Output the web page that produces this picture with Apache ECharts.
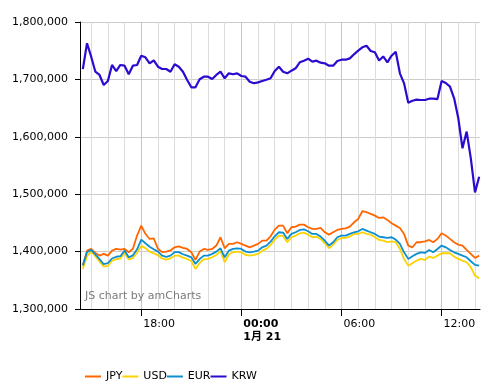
<!DOCTYPE html>
<html><head><meta charset="utf-8">
<script src="https://cdn.jsdelivr.net/npm/echarts@6/dist/echarts.min.js"></script>
<style>html,body{margin:0;padding:0;background:#fff}#c{width:490px;height:385px}</style>
</head><body><div id="c"></div>
<script>
const seriesNames = ['JPY', 'USD', 'EUR', 'KRW'];
const seriesColors = ['#FF6600', '#FCD202', '#0D8ECF', '#2A0CD0'];
// samples every 15 minutes, from 14:30 on 20 Jan (hours counted from 20 Jan 00:00)
const startHour = 14.5;
const stepHours = 0.25;

const jpy = [
  1376000, 1401700, 1404600, 1397700, 1393000, 1396000, 1393000, 1401700, 1404600, 1403500,
  1404600, 1398800, 1405000, 1427900, 1445300, 1431000, 1422000, 1423000, 1405000, 1399000,
  1400000, 1402000, 1407500, 1409000,
  1406400, 1404600, 1398800, 1385500, 1400000, 1404600, 1402900, 1404600, 1410500, 1425000,
  1405800, 1413400, 1413400, 1416300, 1413400, 1410500, 1407500, 1410500, 1413400, 1419200,
  1419200, 1426700, 1438300, 1445300,
  1445300, 1431900, 1442400, 1443600, 1447000, 1447000, 1442400, 1439500, 1439500, 1441200,
  1433700, 1429600, 1433700, 1437700, 1439500, 1440600, 1443600, 1451100, 1456900, 1470300,
  1468600, 1465600, 1462700, 1458600,
  1459800, 1455200, 1449400, 1445300, 1441200, 1430800, 1410500, 1407500, 1416300, 1416300,
  1418000, 1420300, 1416300, 1422100, 1431900, 1427900, 1422100, 1416300, 1412200, 1410500,
  1402900, 1395900, 1388900, 1393000
];
const usd = [
  1370000, 1392000, 1400000, 1392000, 1383000, 1374000, 1375000, 1384000, 1387000, 1388000,
  1398000, 1386000, 1389000, 1398000, 1410000, 1406000, 1400000, 1397000, 1394000, 1388000,
  1386000, 1388000, 1393000, 1393000,
  1389500, 1387200, 1383200, 1369800, 1380300, 1386600, 1387200, 1390100, 1394200, 1401200,
  1381400, 1395400, 1398800, 1400000, 1398800, 1394200, 1393000, 1394200, 1395900, 1401700,
  1404600, 1411600, 1420900, 1427900,
  1427300, 1416300, 1425000, 1427900, 1431900, 1433100, 1429600, 1425000, 1426100, 1422100,
  1414500, 1405800, 1412200, 1420300, 1423800, 1423800, 1426100, 1430800, 1430800, 1433700,
  1430800, 1429600, 1425000, 1420300,
  1419200, 1416300, 1418000, 1416300, 1404600, 1387200, 1375600, 1379700, 1384300, 1387200,
  1385500, 1391300, 1389000, 1393000, 1397100, 1397100, 1397100, 1391300, 1387200, 1384300,
  1381400, 1372700, 1358200, 1353500
];
const eur = [
  1376000, 1399000, 1403000, 1395000, 1387000, 1378000, 1380000, 1388000, 1391000, 1392000,
  1402000, 1390000, 1393500, 1404000, 1421000, 1414500, 1408500, 1404000, 1400000, 1393000,
  1391000, 1393000, 1399000, 1399000,
  1395400, 1393000, 1390000, 1378500, 1387000, 1393000, 1393000, 1396000, 1400000, 1405800,
  1390000, 1401700, 1404600, 1405800, 1404600, 1400000, 1398800, 1400000, 1401700, 1407500,
  1410500, 1417400, 1426700, 1433700,
  1433100, 1422100, 1430800, 1433700, 1437700, 1438900, 1435400, 1430800, 1430800, 1426100,
  1419200, 1410500, 1416300, 1425000, 1427900, 1427900, 1430800, 1433700, 1435400, 1439500,
  1436600, 1433700, 1430800, 1426100,
  1425000, 1423800, 1425000, 1420900, 1413400, 1398800, 1387300, 1391900, 1396000, 1398800,
  1397700, 1402900, 1398800, 1404600, 1410500, 1407500, 1402900, 1398800, 1396000, 1393000,
  1390100, 1383200, 1376800, 1375600
];
const krw = [
  1718000, 1762900, 1739600, 1713400, 1707700, 1690200, 1697200, 1725100, 1714600, 1725100,
  1723900, 1708900, 1723900, 1725100, 1741300, 1738500, 1728000, 1733300, 1722100, 1718100,
  1718100, 1713400, 1726300, 1722100, 1713400, 1699000, 1686200, 1686200, 1700200, 1704700,
  1704700, 1700700, 1707700, 1713400, 1701900, 1710600, 1708900, 1710600, 1705900, 1704700,
  1696000, 1693200, 1694900, 1697200, 1699500, 1701900, 1714600, 1722100, 1713400, 1710600,
  1715200, 1719300, 1729800, 1732600, 1736100, 1730900, 1732600, 1729100, 1728000, 1723900,
  1723900, 1732100, 1734300, 1734300, 1736700, 1743700, 1750000, 1755900, 1758700, 1749500,
  1747200, 1733000, 1740000, 1729800, 1741300, 1748300, 1710600, 1693200, 1659400, 1662900,
  1664700, 1664100, 1664100, 1666400, 1666400, 1665800, 1697200, 1693700, 1687300, 1667100,
  1632300, 1579900, 1609100, 1562500, 1503000, 1530500
];

const xMinHour = 14.33;   // 14:20
const xMaxHour = 38.30;   // 14:18 next day
const xLabelHours = [18, 24, 30, 36];
const xLabelTexts = ['18:00', '00:00', '06:00', '12:00'];
const xDateLabel = '1月 21';
const hourGrid = [15,16,17,18,19,20,21,22,23,24,25,26,27,28,29,30,31,32,33,34,35,36,37,38];
const yMin = 1300000, yMax = 1800000, yStep = 100000;
const watermark = 'JS chart by amCharts';

const FONT = '"DejaVu Sans", Verdana, "Noto Sans CJK JP", sans-serif';
const allValues = [jpy, usd, eur, krw];

function toPairs(vals) {
  return vals.map((v, i) => [startHour + i * stepHours, v]);
}
function labelFor(v) {
  const idx = xLabelHours.indexOf(Math.round(v));
  if (idx < 0) return '';
  if (xLabelHours[idx] === 24) return '{b|' + xLabelTexts[idx] + '}\n{b|' + xDateLabel + '}';
  return xLabelTexts[idx];
}
// grid colour per hourly line: darker on the labelled 6-hour marks
const hourGridColors = hourGrid.map(h => xLabelHours.indexOf(h) >= 0 ? '#c4c4c4' : '#dcdcdc');

const lineSeries = seriesNames.map((name, k) => ({
  name: name, type: 'line', showSymbol: false, symbol: 'none',
  xAxisIndex: k < 2 ? 0 : 1,
  data: toPairs(allValues[k]),
  lineStyle: {width: k === 3 ? 2.2 : 1.8, color: seriesColors[k]},
  itemStyle: {color: seriesColors[k]},
  z: 3 + k
}));

const chart = echarts.init(document.getElementById('c'), null, {renderer: 'canvas'});
chart.setOption({
  animation: false,
  color: seriesColors,
  grid: {left: 80, right: 10, top: 22, bottom: 76, containLabel: false},
  xAxis: [{
    // hourly grid + labels
    type: 'value', min: xMinHour, max: xMaxHour, position: 'bottom',
    axisLine: {show: true, onZero: false, lineStyle: {color: '#000', width: 1}},
    axisTick: {show: false, customValues: hourGrid},
    splitLine: {show: true, lineStyle: {color: hourGridColors, width: 1}},
    axisLabel: {
      customValues: hourGrid, align: 'left', margin: 9, padding: [0, 0, 0, 2],
      fontFamily: FONT, fontSize: 11, color: '#000', lineHeight: 13,
      hideOverlap: false, showMinLabel: true, showMaxLabel: true,
      formatter: labelFor,
      rich: {b: {fontWeight: 'bold', fontFamily: FONT, fontSize: 11, lineHeight: 13, color: '#000'}}
    }
  }, {
    // 6-hour tick marks
    type: 'value', min: xMinHour, max: xMaxHour, position: 'bottom',
    axisLine: {show: false, onZero: false},
    axisTick: {show: true, length: 7, customValues: xLabelHours, lineStyle: {color: '#000'}},
    splitLine: {show: false},
    axisLabel: {show: true, customValues: xLabelHours, formatter: () => ''}
  }],
  yAxis: {
    type: 'value', min: yMin, max: yMax, interval: yStep,
    axisLine: {show: true, lineStyle: {color: '#000', width: 1}},
    axisTick: {show: true, length: 5, lineStyle: {color: '#000'}},
    splitLine: {show: true, lineStyle: {color: '#cccccc', width: 1}},
    axisLabel: {
      margin: 12, fontFamily: FONT, fontSize: 11, color: '#000',
      formatter: v => v.toLocaleString('en-US')
    }
  },
  legend: {
    left: 80, top: 366, icon: 'rect', itemWidth: 16, itemHeight: 2, itemGap: 0,
    data: seriesNames,
    textStyle: {fontFamily: FONT, fontSize: 11, color: '#000', width: 41}
  },
  graphic: [{
    type: 'text', left: 85, top: 291, silent: true, z: 10,
    style: {text: watermark, fontFamily: FONT, fontSize: 11, fill: '#7a7a7a'}
  }],
  series: lineSeries
});
</script></body></html>
